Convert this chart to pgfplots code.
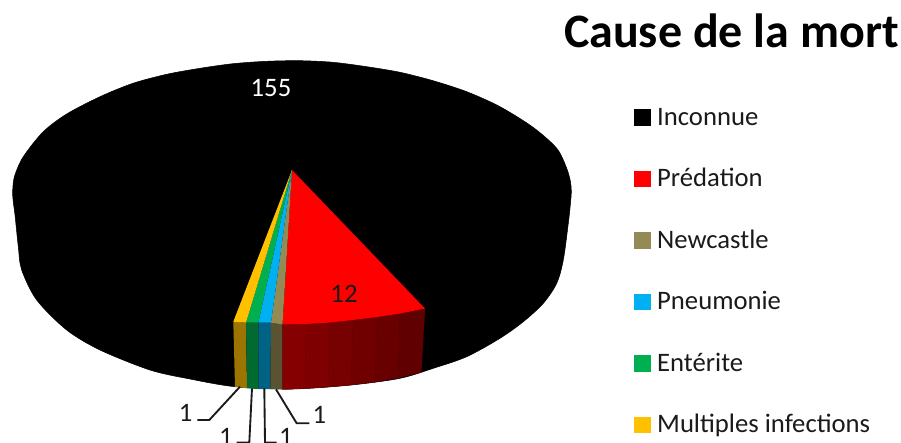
\documentclass[border=0pt]{standalone}
\usepackage{pgfplots}
\pgfplotsset{compat=1.18}
\usepackage{fontspec}
\setmainfont{Carlito}
\definecolor{cnew}{HTML}{948A54}
\definecolor{cpne}{HTML}{00B0F0}
\definecolor{cent}{HTML}{00B050}
\definecolor{cmul}{HTML}{FFC000}
\definecolor{txt}{HTML}{1A1A1A}
\begin{document}
\begin{tikzpicture}
\useasboundingbox (0,0) rectangle (675.75pt,332.25pt);
\begin{axis}[
  at={(0,0)}, anchor=south west,
  scale only axis, width=675.75pt, height=332.25pt,
  xmin=0, xmax=901, ymin=0, ymax=443, y dir=reverse,
  hide axis, clip=true,
  legend image code/.code={\fill[#1] (0pt,-3.9pt) rectangle (11.8pt,7.9pt);},
  legend cell align=left,
  legend style={draw=none, fill=none, at={(634/901,1-109/443)}, anchor=north west,
    font=\fontsize{20pt}{22pt}\selectfont\color{txt}, row sep=30pt, inner sep=0pt,
    nodes={inner xsep=5pt, inner ysep=0pt, text height=12pt, text depth=4pt}},
]
\addlegendimage{black}\addlegendentry{Inconnue}
\addlegendimage{red}\addlegendentry{Prédation}
\addlegendimage{cnew}\addlegendentry{Newcastle}
\addlegendimage{cpne}\addlegendentry{Pneumonie}
\addlegendimage{cent}\addlegendentry{Entérite}
\addlegendimage{cmul}\addlegendentry{Multiples infections}
% body silhouette
\addplot[forget plot, fill=black, draw=black, thin, smooth, tension=0.5] coordinates {
(12.9,198)(12.7,190)(14.6,176)(23.3,156.7)(43.3,131.7)(66.7,114)(100,96.7)(133,83.3)(166.7,74.3)(200,68.3)(233,63.7)(266.7,61.3)(300,60.7)(333,62.3)(366.7,66.7)(400,72.3)(433,80.7)(466.7,91.7)(500,106.7)(533,127.3)(556.7,148.3)(566.7,168.3)(570.5,182)(571.3,192)
(570.3,205)(568.3,223.3)(563.3,260)(556.7,283.3)(543.3,303.3)(523.3,321.7)(500,338.3)(466.7,356.7)(433.3,368.3)(400,378.3)(351,385)(292,389)(235,386.7)(190,379)(150,370)(100,350)(66.7,330)(36.7,300)(21.7,270)(18.3,246.7)(15,215)(13.5,204)} --cycle;
% side faces
\addplot[forget plot, fill=black!39!cmul, draw=none] coordinates {(233.3,321.7)(246,322.7)(247,388.3)(235,386.7)} --cycle;
\addplot[forget plot, fill=black!40!cent, draw=none] coordinates {(246,322.7)(258.3,322.7)(258.7,389)(247,388.3)} --cycle;
\addplot[forget plot, fill=black!44!cpne, draw=none] coordinates {(258.3,322.7)(271,322.7)(270.3,389)(258.7,389)} --cycle;
\addplot[forget plot, fill=black!40!cnew, draw=none] coordinates {(271,322.7)(282.5,324.5)(282.7,389.5)(270.3,389)} --cycle;
\addplot[forget plot, fill={rgb,255:red,133;green,0;blue,0}, draw={rgb,255:red,133;green,0;blue,0}, very thin] coordinates {(282.5,324.5)(306,324)(305,388.5)(282.7,389.5)} --cycle;
\addplot[forget plot, fill={rgb,255:red,126;green,0;blue,0}, draw={rgb,255:red,126;green,0;blue,0}, very thin] coordinates {(306,324)(330,322.5)(328,387)(305,388.5)} --cycle;
\addplot[forget plot, fill={rgb,255:red,119;green,0;blue,0}, draw={rgb,255:red,119;green,0;blue,0}, very thin] coordinates {(330,322.5)(353,320)(351,385)(328,387)} --cycle;
\addplot[forget plot, fill={rgb,255:red,112;green,0;blue,0}, draw={rgb,255:red,112;green,0;blue,0}, very thin] coordinates {(353,320)(377,317)(375,382)(351,385)} --cycle;
\addplot[forget plot, fill={rgb,255:red,104;green,0;blue,0}, draw={rgb,255:red,104;green,0;blue,0}, very thin] coordinates {(377,317)(400,313.5)(398,378)(375,382)} --cycle;
\addplot[forget plot, fill={rgb,255:red,96;green,0;blue,0}, draw={rgb,255:red,96;green,0;blue,0}, very thin] coordinates {(400,313.5)(425,308.5)(421.3,372.3)(398,378)} --cycle;
% top faces
\addplot[forget plot, fill=red, draw=none] coordinates {(292,170)(282.5,324.5)(306,324)(330,322.5)(353,320)(377,317)(400,313.5)(425,308.5)} --cycle;
\addplot[forget plot, fill=cnew, draw=none] coordinates {(292,170)(271,322.7)(282.5,324.5)} --cycle;
\addplot[forget plot, fill=cpne, draw=none] coordinates {(292,170)(258.3,322.7)(271,322.7)} --cycle;
\addplot[forget plot, fill=cent, draw=none] coordinates {(292,170)(246,322.7)(258.3,322.7)} --cycle;
\addplot[forget plot, fill=cmul, draw=none] coordinates {(292,170)(233.3,321.7)(246,322.7)} --cycle;
% leader lines
\addplot[forget plot, txt, line width=1.4pt] coordinates {(240,386.7)(209.3,420)(197.3,420)};
\addplot[forget plot, txt, line width=1.4pt] coordinates {(252,388.3)(249.3,442.5)(236.7,442.5)};
\addplot[forget plot, txt, line width=1.4pt] coordinates {(264.3,388)(265,442.5)(276.7,442.5)};
\addplot[forget plot, txt, line width=1.4pt] coordinates {(276,389.3)(296.7,423.3)(309.3,423.3)};
% labels
\node[font=\fontsize{20pt}{22pt}\selectfont, white] at (axis cs:271,88) {155};
\node[font=\fontsize{20pt}{22pt}\selectfont, txt] at (axis cs:344,294) {12};
\node[font=\fontsize{20pt}{22pt}\selectfont, txt] at (axis cs:185.7,413) {1};
\node[font=\fontsize{20pt}{22pt}\selectfont, txt] at (axis cs:319.3,414.5) {1};
\node[font=\fontsize{20pt}{22pt}\selectfont, txt] at (axis cs:226,436.7) {1};
\node[font=\fontsize{20pt}{22pt}\selectfont, txt] at (axis cs:286,436.7) {1};
\node[font=\fontsize{36pt}{40pt}\selectfont\bfseries, black, anchor=base east, inner sep=0pt] at (axis cs:899,47) {Cause de la mort};
\end{axis}
\end{tikzpicture}
\end{document}
